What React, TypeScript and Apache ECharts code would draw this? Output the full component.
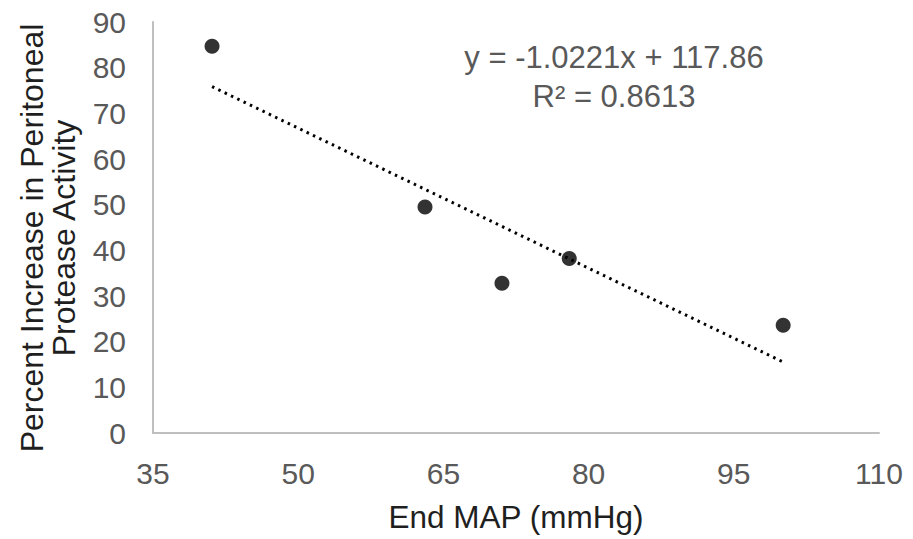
import React, { useEffect, useRef } from "react";
import * as echarts from "echarts";

const endMap = [41.1, 63.1, 71.05, 78.0, 100.1];
const proteaseIncrease = [84.7, 49.5, 32.8, 38.2, 23.6];
const trendSlope = -1.0221;
const trendIntercept = 117.86;
const trendXRange = [41.1, 100.1];
const equationLines = ["y = -1.0221x + 117.86", "R² = 0.8613"];
const xTicks = { min: 35, max: 110, interval: 15 };
const yTicks = { min: 0, max: 90, interval: 10 };
const xTitle = "End MAP (mmHg)";
const yTitle = "Percent Increase in Peritoneal\nProtease Activity";

const FONT = "'Liberation Sans', Arial, sans-serif";

export default function App() {
  const ref = useRef<HTMLDivElement>(null);
  useEffect(() => {
    if (!ref.current) return;
    const chart = echarts.init(ref.current, undefined, { renderer: "svg" });
    const scatterData = endMap.map((x, i) => [x, proteaseIncrease[i]]);
    const trendData = trendXRange.map((x) => [x, trendSlope * x + trendIntercept]);
    chart.setOption({
      animation: false,
      backgroundColor: "#ffffff",
      textStyle: { fontFamily: FONT },
      grid: { left: 153, right: 34, top: 22, bottom: 106, containLabel: false },
      xAxis: {
        type: "value",
        min: xTicks.min,
        max: xTicks.max,
        interval: xTicks.interval,
        name: xTitle,
        nameLocation: "middle",
        nameGap: 68,
        nameTextStyle: { color: "#1f1f1f", fontSize: 31.5, fontFamily: FONT, lineHeight: 31 },
        axisLine: { show: true, lineStyle: { color: "#bfbfbf", width: 2 } },
        axisTick: { show: false },
        splitLine: { show: false },
        axisLabel: { color: "#595959", fontSize: 30, margin: 25, fontFamily: FONT, lineHeight: 30 },
      },
      yAxis: {
        type: "value",
        min: yTicks.min,
        max: yTicks.max,
        interval: yTicks.interval,
        axisLine: { show: true, lineStyle: { color: "#bfbfbf", width: 2 } },
        axisTick: { show: false },
        splitLine: { show: false },
        axisLabel: { color: "#595959", fontSize: 30, margin: 27, fontFamily: FONT },
      },
      series: [
        {
          type: "line",
          data: trendData,
          symbol: "none",
          lineStyle: { color: "#000000", width: 3, type: [2.5, 4.5] },
          silent: true,
        },
        {
          type: "scatter",
          data: scatterData,
          symbol: "circle",
          symbolSize: 15,
          itemStyle: { color: "#000000" },
        },
      ],
      graphic: [
        {
          type: "text",
          x: 48,
          y: 238,
          rotation: Math.PI / 2,
          style: {
            text: yTitle,
            fill: "#1f1f1f",
            font: `32px ${FONT}`,
            lineHeight: 32,
            align: "center",
            verticalAlign: "middle",
          },
        },
        {
          type: "text",
          x: 614,
          y: 57.5,
          style: {
            text: equationLines[0],
            fill: "#595959",
            font: `31px ${FONT}`,
            align: "center",
            verticalAlign: "middle",
          },
        },
        {
          type: "text",
          x: 614,
          y: 96.5,
          style: {
            text: equationLines[1],
            fill: "#595959",
            font: `31px ${FONT}`,
            align: "center",
            verticalAlign: "middle",
          },
        },
      ],
    });
    return () => chart.dispose();
  }, []);
  return (
    <div
      ref={ref}
      style={{ position: "absolute", left: 0, top: 0, width: 913, height: 539 }}
    />
  );
}
